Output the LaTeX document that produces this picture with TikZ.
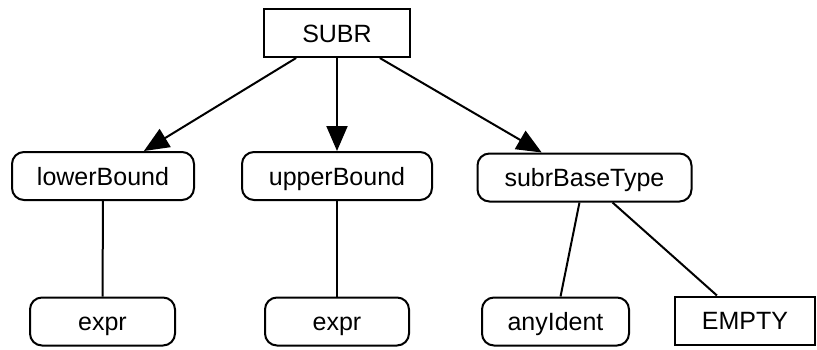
\documentclass[tikz,border=0pt]{standalone}
\usepackage{fontspec}
\setmainfont{Liberation Sans}
\usetikzlibrary{arrows.meta}

\begin{document}
\begin{tikzpicture}[x=1pt,y=-1pt,
    nd/.style={draw,line width=2pt,rounded corners=12pt,inner sep=0pt,
      minimum height=48pt,text height=18pt,text depth=0pt,
      font=\fontsize{25}{30}\selectfont},
    tk/.style={nd,rounded corners=0pt},
    arw/.style={line width=2pt,-{Triangle[length=25pt,width=21pt]}},
    ln/.style={line width=2pt}]
  \useasboundingbox (0,0) rectangle (817,349);
  \node[tk,minimum width=146pt] (Subr) at (337,33) {SUBR};
  \node[nd,minimum width=182pt] (LowerBound) at (103,176) {lowerBound};
  \node[nd,minimum width=190pt] (UpperBound) at (337,176) {upperBound};
  \node[nd,minimum width=214pt] (SubrBaseType) at (584.5,177.5) {subrBaseType};
  \node[nd,minimum width=145pt] (ExprL) at (102.5,321.5) {expr};
  \node[nd,minimum width=144pt] (ExprU) at (337,321.5) {expr};
  \node[nd,minimum width=147pt] (AnyIdent) at (555.5,321.5) {anyIdent};
  \node[tk,minimum width=140pt] (Empty) at (745,320.5) {EMPTY};
  \draw[arw] (Subr) -- (LowerBound);
  \draw[arw] (Subr) -- (UpperBound);
  \draw[arw] (Subr) -- (SubrBaseType);
  \draw[ln] (LowerBound) -- (ExprL);
  \draw[ln] (UpperBound) -- (ExprU);
  \draw[ln] (SubrBaseType) -- (AnyIdent);
  \draw[ln] (SubrBaseType) -- (Empty);
\end{tikzpicture}
\end{document}
